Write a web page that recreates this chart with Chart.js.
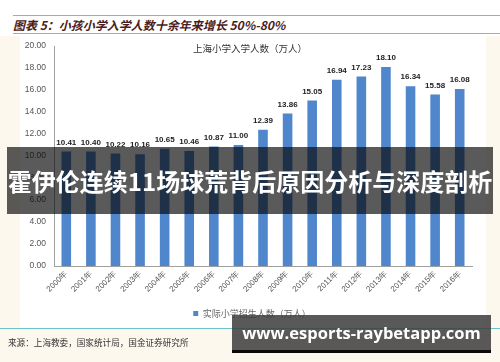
<!DOCTYPE html>
<html>
<head>
<meta charset="utf-8">
<script src="https://cdn.jsdelivr.net/npm/chart.js@4.4.1/dist/chart.umd.min.js"></script>
<style>
  body { margin: 0; background: #fdf8ee; }
  #wrap { position: relative; width: 500px; height: 362px; overflow: hidden; background: #fdf8ee; }
  #topband { position: absolute; left: 0; top: 0; width: 500px; height: 36px; background: #fff; }
  #panel { position: absolute; left: 20px; top: 36px; width: 466px; height: 292px; background: #fff; }
  .rule { position: absolute; height: 1px; background: #6cc3cb; }
  #heading { position: absolute; left: 13px; top: 16px; font: italic bold 12px "Noto Sans CJK SC", sans-serif; color: #4a1c1c; line-height: 17px; white-space: nowrap; }
  #source { position: absolute; left: 8px; top: 336px; font: 8.6px "Noto Sans CJK SC", sans-serif; color: #333; white-space: nowrap; }
  canvas { position: absolute; left: 0; top: 0; }
  #banner { position: absolute; left: 7px; top: 147px; width: 486px; height: 67px; background: rgba(5,5,5,0.66);
            color: #fff; font: bold 24px "Noto Sans CJK SC", sans-serif; text-align: center; line-height: 67px; white-space: nowrap; }
  #mark { position: absolute; left: 232px; top: 315px; width: 259px; height: 35px; background: rgba(60,60,60,0.85);
          border-bottom: 3px solid #0a0a0a; color: #fff; font: bold 16.5px "Open Sans", sans-serif; text-align: center;
          line-height: 35px; white-space: nowrap; }
</style>
</head>
<body>
<div id="wrap">
  <div id="topband"></div>
  <div id="panel"></div>
  <div class="rule" style="left:13px;top:15px;width:487px"></div>
  <div class="rule" style="left:13px;top:33px;width:487px"></div>
  <div id="heading">图表 5：小孩小学入学人数十余年来增长 50%-80%</div>
  <canvas id="chart" width="500" height="362"></canvas>
  <div class="rule" style="left:0;top:328px;width:500px"></div>
  <div id="source">来源：上海教委，国家统计局，国金证券研究所</div>
  <div id="banner">霍伊伦连续11场球荒背后原因分析与深度剖析</div>
  <div id="mark">www.esports-raybetapp.com</div>
</div>
<script>
// 上海小学入学人数（万人）
const years = ["2000年", "2001年", "2002年", "2003年", "2004年", "2005年", "2006年", "2007年", "2008年",
  "2009年", "2010年", "2011年", "2012年", "2013年", "2014年", "2015年", "2016年"]
const enrollment = [10.41, 10.40, 10.22, 10.16, 10.65, 10.46, 10.87, 11.00, 12.39,
  13.86, 15.05, 16.94, 17.23, 18.10, 16.34, 15.58, 16.08]
const yMin = 0
const yMax = 20
const yStep = 2
const chartTitle = "上海小学入学人数（万人）"
const seriesName = "实际小学招生人数（万人）"

// values on top of each bar + title inside the plot
const barLabels = {
  id: "barLabels",
  afterLayout(chart) {
    // legend in the original sits a bit right of the canvas centre
    chart.legend.left += 16
    chart.legend.right += 16
  },
  afterDatasetsDraw(chart) {
    const ctx = chart.ctx
    ctx.save()
    ctx.fillStyle = "#222"
    ctx.font = "bold 8px 'Liberation Sans', Arial, sans-serif"
    ctx.textAlign = "center"
    ctx.textBaseline = "bottom"
    chart.getDatasetMeta(0).data.forEach((bar, i) => {
      ctx.fillText(enrollment[i].toFixed(2), bar.x, bar.y - 5)
    })
    ctx.fillStyle = "#333"
    ctx.font = "9.5px 'Noto Sans CJK SC', sans-serif"
    ctx.textBaseline = "middle"
    ctx.fillText(chartTitle, 250, 48)
    ctx.restore()
  },
}

const canvas = document.getElementById("chart")
new Chart(canvas.getContext("2d"), {
  type: "bar",
  data: {
    labels: years,
    datasets: [{
      label: seriesName,
      data: enrollment,
      backgroundColor: "rgb(79, 134, 204)",
      categoryPercentage: 1,
      barPercentage: 0.39,
    }],
  },
  options: {
    responsive: false,
    animation: false,
    layout: { padding: { left: 0, right: 28, top: 46, bottom: 34 } },
    scales: {
      y: {
        min: yMin,
        max: yMax,
        grid: { display: false, drawTicks: false },
        border: { display: true, color: "#a0a0a0", width: 1 },
        ticks: {
          stepSize: yStep,
          padding: 8,
          color: "#555",
          font: { size: 8.5, family: "'Liberation Sans', Arial, sans-serif" },
          callback: (v) => v.toFixed(2),
        },
        afterFit: (axis) => { axis.width = 54 },
      },
      x: {
        grid: { display: false, drawTicks: false },
        border: { display: true, color: "#a0a0a0", width: 1 },
        ticks: {
          autoSkip: false,
          minRotation: 45,
          maxRotation: 45,
          padding: 3,
          color: "#555",
          font: { size: 8, family: "'Liberation Sans', Arial, sans-serif" },
        },
        afterFit: (axis) => { axis.height = 33 },
      },
    },
    plugins: {
      title: { display: false },
      tooltip: { enabled: false },
      legend: {
        display: true,
        position: "bottom",
        labels: {
          boxWidth: 5,
          boxHeight: 5,
          padding: 10,
          color: "#666",
          font: { size: 9, family: "'Noto Sans CJK SC', sans-serif" },
        },
      },
    },
  },
  plugins: [barLabels],
})
</script>
</body>
</html>
